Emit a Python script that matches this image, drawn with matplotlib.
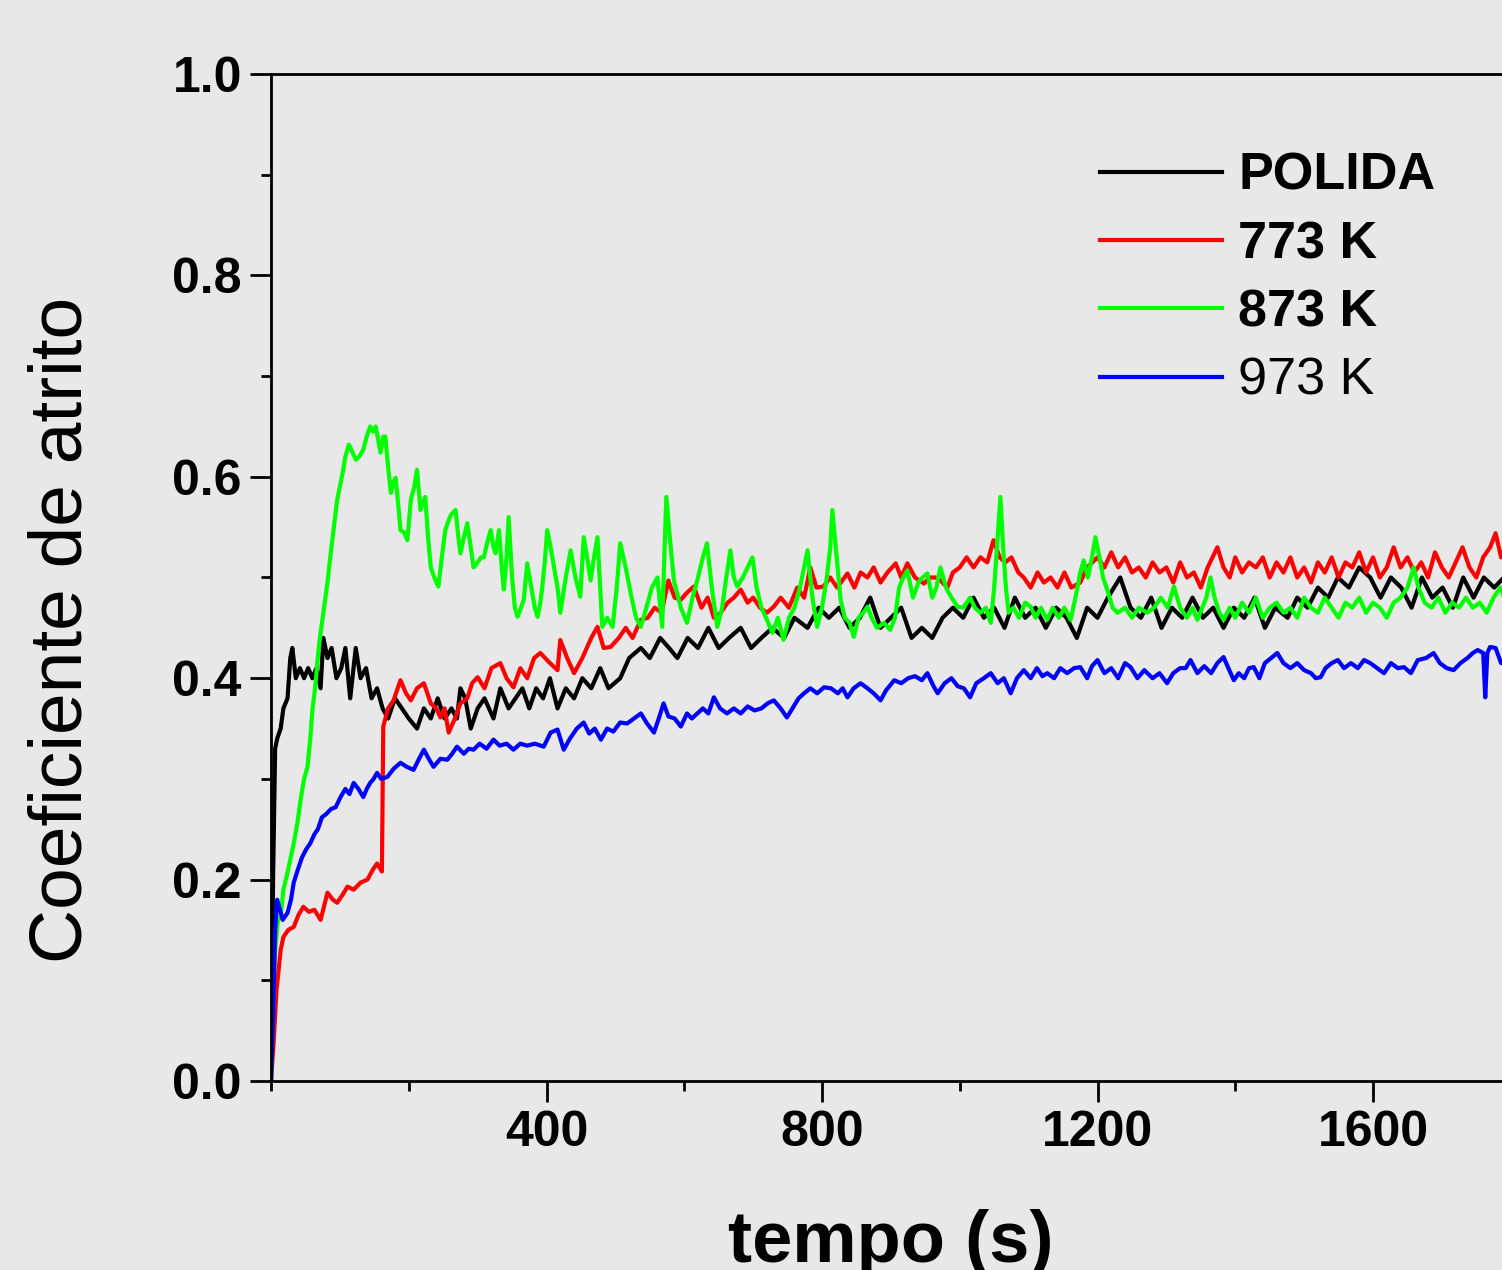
import matplotlib
matplotlib.use("Agg")
import matplotlib.pyplot as plt
from matplotlib.ticker import MultipleLocator

plt.rcParams['font.family'] = ['Liberation Sans', 'DejaVu Sans']

# %% Data (tempo in s, coeficiente de atrito)
t_polida = [0, 3, 6, 9, 14, 18, 24, 28, 31, 36, 42, 48, 54, 60, 66, 72, 76, 82, 88, 95,
            102, 108, 115, 123, 130, 138, 146, 154, 162, 170, 180, 190, 200, 212, 222, 232,
            242, 252, 262, 270, 275, 282, 290, 300, 310, 323, 333, 345, 355, 365, 375, 385,
            395, 405, 416, 428, 440, 452, 465, 478, 490, 507, 520, 537, 550, 565, 578, 590,
            605, 620, 635, 650, 665, 682, 697, 712, 728, 745, 760, 779, 795, 810, 825, 840,
            855, 870, 885, 900, 915, 930, 945, 960, 975, 990, 1005, 1020, 1035, 1050, 1065,
            1080, 1095, 1110, 1125, 1140, 1155, 1170, 1185, 1200, 1215, 1233, 1248, 1263,
            1278, 1293, 1308, 1323, 1338, 1353, 1368, 1383, 1398, 1413, 1428, 1443, 1458,
            1476, 1490, 1505, 1520, 1535, 1549, 1565, 1580, 1596, 1611, 1626, 1641, 1656,
            1671, 1686, 1701, 1716, 1731, 1746, 1761, 1776, 1790, 1800]
mu_polida = [0.00, 0.20, 0.33, 0.34, 0.35, 0.37, 0.38, 0.42, 0.43, 0.40, 0.41, 0.40, 0.41,
             0.40, 0.41, 0.39, 0.44, 0.42, 0.43, 0.40, 0.41, 0.43, 0.38, 0.43, 0.40, 0.41,
             0.38, 0.39, 0.37, 0.36, 0.38, 0.37, 0.36, 0.35, 0.37, 0.36, 0.38, 0.36, 0.37,
             0.36, 0.39, 0.38, 0.35, 0.37, 0.38, 0.36, 0.39, 0.37, 0.38, 0.39, 0.37, 0.39,
             0.38, 0.40, 0.37, 0.39, 0.38, 0.40, 0.39, 0.41, 0.39, 0.40, 0.42, 0.43, 0.42,
             0.44, 0.43, 0.42, 0.44, 0.43, 0.45, 0.43, 0.44, 0.45, 0.43, 0.44, 0.45, 0.44,
             0.46, 0.45, 0.47, 0.46, 0.47, 0.45, 0.46, 0.48, 0.45, 0.46, 0.47, 0.44, 0.45,
             0.44, 0.46, 0.47, 0.46, 0.48, 0.46, 0.47, 0.45, 0.48, 0.46, 0.47, 0.45, 0.47,
             0.46, 0.44, 0.47, 0.46, 0.48, 0.50, 0.47, 0.46, 0.48, 0.45, 0.47, 0.46, 0.48,
             0.46, 0.47, 0.45, 0.47, 0.46, 0.48, 0.45, 0.47, 0.46, 0.48, 0.47, 0.49, 0.48,
             0.50, 0.49, 0.51, 0.50, 0.48, 0.50, 0.49, 0.47, 0.50, 0.48, 0.49, 0.47, 0.50,
             0.48, 0.50, 0.49, 0.50, 0.49]

t_773 = [0, 4, 8, 11, 14, 18, 25, 33, 40, 47, 55, 63, 72, 82, 90, 96, 104, 111, 120, 130,
         140, 148, 154, 161, 163, 170, 178, 188, 196, 203, 212, 222, 232, 240, 246, 252, 258,
         267, 275, 285, 292, 300, 310, 320, 333, 342, 352, 362, 372, 382, 391, 405, 416, 420,
         430, 440, 452, 465, 474, 483, 493, 505, 515, 525, 537, 547, 557, 567, 577, 586, 595,
         604, 614, 625, 634, 643, 653, 663, 672, 682, 692, 700, 710, 720, 730, 740, 752, 764,
         774, 783, 792, 802, 812, 822, 837, 847, 856, 866, 875, 885, 895, 907, 915, 924, 935,
         948, 957, 965, 972, 982, 990, 1000, 1010, 1020, 1030, 1040, 1049, 1058, 1066, 1075,
         1085, 1093, 1103, 1113, 1122, 1132, 1142, 1152, 1162, 1175, 1185, 1200, 1210, 1220,
         1230, 1240, 1250, 1260, 1270, 1280, 1290, 1300, 1310, 1320, 1330, 1340, 1350, 1360,
         1374, 1383, 1392, 1400, 1410, 1420, 1430, 1440, 1450, 1460, 1470, 1480, 1490, 1500,
         1510, 1520, 1530, 1540, 1550, 1560, 1570, 1580, 1590, 1600, 1610, 1620, 1630, 1640,
         1650, 1660, 1670, 1680, 1690, 1700, 1710, 1720, 1730, 1740, 1750, 1760, 1770, 1778,
         1786, 1795, 1800]
mu_773 = [0.00, 0.04, 0.09, 0.11, 0.13, 0.143, 0.15, 0.153, 0.165, 0.173, 0.168, 0.17,
          0.16, 0.187, 0.18, 0.177, 0.185, 0.193, 0.19, 0.197, 0.20, 0.21, 0.216, 0.208,
          0.352, 0.37, 0.378, 0.398, 0.385, 0.378, 0.39, 0.395, 0.375, 0.37, 0.361, 0.37,
          0.346, 0.36, 0.375, 0.38, 0.395, 0.401, 0.39, 0.41, 0.415, 0.40, 0.391, 0.41, 0.40,
          0.42, 0.425, 0.415, 0.408, 0.438, 0.42, 0.405, 0.42, 0.44, 0.451, 0.43, 0.431, 0.44,
          0.45, 0.44, 0.458, 0.46, 0.47, 0.465, 0.497, 0.48, 0.478, 0.485, 0.491, 0.47, 0.48,
          0.46, 0.465, 0.475, 0.48, 0.488, 0.475, 0.48, 0.47, 0.465, 0.471, 0.48, 0.47, 0.49,
          0.48, 0.51, 0.49, 0.491, 0.50, 0.49, 0.504, 0.49, 0.505, 0.50, 0.51, 0.495, 0.505,
          0.514, 0.50, 0.514, 0.50, 0.494, 0.50, 0.50, 0.497, 0.49, 0.505, 0.51, 0.52, 0.51,
          0.52, 0.515, 0.537, 0.52, 0.515, 0.52, 0.505, 0.50, 0.49, 0.505, 0.495, 0.50, 0.49,
          0.505, 0.49, 0.495, 0.51, 0.52, 0.51, 0.525, 0.51, 0.52, 0.505, 0.51, 0.50, 0.515,
          0.505, 0.51, 0.495, 0.515, 0.50, 0.505, 0.49, 0.51, 0.53, 0.51, 0.50, 0.52, 0.505,
          0.515, 0.51, 0.52, 0.50, 0.515, 0.505, 0.52, 0.50, 0.51, 0.495, 0.515, 0.505, 0.52,
          0.50, 0.515, 0.51, 0.525, 0.505, 0.52, 0.50, 0.51, 0.53, 0.51, 0.52, 0.505, 0.515,
          0.50, 0.525, 0.51, 0.50, 0.515, 0.53, 0.51, 0.50, 0.52, 0.53, 0.544, 0.52, 0.535,
          0.525]

t_873 = [0, 5, 10, 14, 18, 25, 33, 38, 43, 48, 53, 57, 60, 64, 69, 72, 77, 82, 86, 89, 93,
         96, 100, 104, 108, 113, 118, 123, 128, 134, 139, 144, 148, 152, 156, 159, 163, 166,
         170, 174, 178, 181, 185, 188, 193, 198, 203, 208, 212, 217, 221, 224, 228, 232, 237,
         243, 248, 253, 257, 261, 265, 268, 272, 275, 280, 285, 290, 294, 300, 305, 309, 314,
         319, 323, 326, 331, 335, 338, 342, 345, 350, 354, 358, 363, 367, 372, 378, 383, 387,
         391, 394, 398, 401, 406, 411, 416, 420, 428, 435, 442, 449, 454, 459, 464, 469, 474,
         478, 481, 488, 496, 502, 507, 515, 522, 530, 537, 545, 553, 561, 568, 571, 574, 579,
         585, 595, 604, 612, 620, 627, 633, 640, 648, 655, 661, 667, 672, 677, 685, 692, 699,
         705, 712, 720, 728, 736, 744, 752, 760, 768, 774, 779, 786, 793, 800, 807, 812, 815,
         820, 827, 833, 840, 846, 853, 860, 866, 872, 880, 890, 899, 906, 912, 918, 924, 932,
         940, 946, 953, 960, 966, 972, 980, 988, 997, 1005, 1015, 1022, 1030, 1038, 1045,
         1050, 1055, 1059, 1063, 1067, 1071, 1078, 1086, 1095, 1103, 1110, 1118, 1127, 1135,
         1144, 1152, 1161, 1168, 1175, 1180, 1186, 1192, 1197, 1203, 1208, 1214, 1222, 1229,
         1240, 1250, 1260, 1272, 1282, 1292, 1302, 1311, 1320, 1330, 1338, 1345, 1352, 1358,
         1364, 1370, 1377, 1383, 1392, 1400, 1410, 1420, 1430, 1440, 1450, 1460, 1470, 1480,
         1490, 1500, 1510, 1520, 1530, 1540, 1550, 1560, 1570, 1580, 1590, 1600, 1610, 1620,
         1630, 1640, 1650, 1659, 1666, 1675, 1685, 1695, 1705, 1715, 1725, 1735, 1745, 1755,
         1765, 1775, 1785, 1793, 1800]
mu_873 = [0.00, 0.12, 0.16, 0.163, 0.19, 0.21, 0.236, 0.255, 0.279, 0.30, 0.312, 0.34,
          0.368, 0.39, 0.428, 0.445, 0.47, 0.495, 0.52, 0.537, 0.56, 0.577, 0.59, 0.604,
          0.62, 0.632, 0.625, 0.617, 0.62, 0.627, 0.64, 0.65, 0.645, 0.65, 0.635, 0.624,
          0.64, 0.64, 0.61, 0.584, 0.595, 0.599, 0.57, 0.547, 0.545, 0.537, 0.577, 0.59,
          0.607, 0.567, 0.575, 0.58, 0.54, 0.51, 0.50, 0.491, 0.52, 0.547, 0.555, 0.562,
          0.565, 0.567, 0.54, 0.524, 0.54, 0.554, 0.53, 0.51, 0.515, 0.52, 0.52, 0.535,
          0.547, 0.53, 0.524, 0.547, 0.51, 0.488, 0.52, 0.56, 0.50, 0.47, 0.461, 0.47, 0.478,
          0.514, 0.49, 0.47, 0.461, 0.475, 0.491, 0.52, 0.547, 0.53, 0.51, 0.49, 0.465, 0.50,
          0.527, 0.50, 0.481, 0.54, 0.52, 0.497, 0.52, 0.54, 0.49, 0.451, 0.46, 0.451, 0.49,
          0.534, 0.51, 0.485, 0.46, 0.451, 0.47, 0.49, 0.50, 0.451, 0.52, 0.58, 0.54, 0.497,
          0.47, 0.455, 0.48, 0.50, 0.52, 0.534, 0.49, 0.451, 0.47, 0.50, 0.527, 0.50, 0.491,
          0.50, 0.51, 0.52, 0.49, 0.47, 0.458, 0.445, 0.46, 0.438, 0.46, 0.47, 0.49, 0.51,
          0.527, 0.48, 0.451, 0.47, 0.50, 0.53, 0.567, 0.53, 0.478, 0.46, 0.455, 0.441, 0.46,
          0.465, 0.471, 0.46, 0.45, 0.455, 0.448, 0.46, 0.49, 0.50, 0.507, 0.48, 0.495, 0.50,
          0.504, 0.48, 0.49, 0.51, 0.49, 0.48, 0.471, 0.47, 0.48, 0.47, 0.465, 0.47, 0.455,
          0.49, 0.54, 0.58, 0.53, 0.49, 0.465, 0.47, 0.46, 0.475, 0.471, 0.46, 0.47, 0.458,
          0.47, 0.46, 0.47, 0.458, 0.48, 0.505, 0.517, 0.50, 0.52, 0.54, 0.52, 0.50, 0.488,
          0.47, 0.465, 0.47, 0.46, 0.47, 0.465, 0.47, 0.48, 0.47, 0.491, 0.47, 0.46, 0.47,
          0.458, 0.47, 0.48, 0.50, 0.48, 0.465, 0.458, 0.47, 0.46, 0.475, 0.465, 0.48, 0.46,
          0.47, 0.475, 0.465, 0.47, 0.46, 0.48, 0.47, 0.465, 0.48, 0.47, 0.46, 0.475, 0.47,
          0.48, 0.465, 0.475, 0.47, 0.46, 0.475, 0.48, 0.49, 0.51, 0.49, 0.475, 0.47, 0.48,
          0.465, 0.475, 0.47, 0.48, 0.47, 0.475, 0.465, 0.48, 0.49, 0.475, 0.48]

t_973 = [0, 3, 6, 9, 13, 17, 24, 29, 33, 39, 45, 51, 57, 63, 68, 74, 80, 87, 94, 101, 108,
         114, 120, 127, 134, 139, 144, 149, 154, 160, 169, 178, 188, 197, 207, 215, 222, 229,
         236, 246, 256, 263, 270, 280, 287, 294, 303, 313, 323, 332, 342, 352, 362, 372, 383,
         396, 406, 416, 425, 434, 444, 454, 462, 470, 479, 488, 497, 507, 517, 527, 537, 546,
         556, 563, 570, 577, 586, 595, 604, 611, 619, 627, 635, 643, 652, 662, 672, 682, 692,
         702, 712, 721, 730, 740, 749, 757, 766, 774, 783, 793, 803, 813, 823, 830, 837, 846,
         856, 866, 875, 885, 893, 905, 915, 925, 935, 945, 953, 962, 968, 978, 988, 997, 1006,
         1015, 1024, 1035, 1045, 1055, 1064, 1074, 1083, 1093, 1103, 1112, 1120, 1127, 1137,
         1146, 1156, 1166, 1175, 1185, 1192, 1200, 1210, 1220, 1230, 1240, 1248, 1258, 1268,
         1280, 1290, 1301, 1310, 1320, 1328, 1335, 1345, 1355, 1365, 1374, 1383, 1390, 1398,
         1405, 1413, 1420, 1427, 1435, 1443, 1452, 1461, 1470, 1480, 1490, 1500, 1510, 1517,
         1524, 1531, 1540, 1549, 1558, 1568, 1578, 1587, 1596, 1606, 1616, 1626, 1636, 1645,
         1655, 1665, 1677, 1688, 1697, 1707, 1717, 1727, 1737, 1745, 1752, 1760, 1763, 1766,
         1770, 1778, 1786, 1792, 1800]
mu_973 = [0.0, 0.06, 0.15, 0.18, 0.17, 0.16, 0.167, 0.18, 0.197, 0.21, 0.222, 0.23, 0.236,
          0.245, 0.25, 0.262, 0.265, 0.27, 0.272, 0.282, 0.29, 0.285, 0.296, 0.29, 0.282,
          0.29, 0.296, 0.30, 0.306, 0.30, 0.302, 0.31, 0.316, 0.312, 0.309, 0.32, 0.329,
          0.32, 0.312, 0.32, 0.319, 0.325, 0.332, 0.325, 0.33, 0.329, 0.335, 0.33, 0.339,
          0.333, 0.335, 0.329, 0.335, 0.333, 0.335, 0.332, 0.346, 0.349, 0.329, 0.34, 0.35,
          0.356, 0.345, 0.35, 0.339, 0.35, 0.347, 0.356, 0.355, 0.36, 0.365, 0.355, 0.346,
          0.36, 0.375, 0.362, 0.36, 0.352, 0.365, 0.36, 0.365, 0.37, 0.365, 0.381, 0.37,
          0.365, 0.37, 0.365, 0.372, 0.368, 0.37, 0.375, 0.378, 0.37, 0.361, 0.37, 0.38,
          0.385, 0.39, 0.385, 0.391, 0.39, 0.385, 0.39, 0.381, 0.39, 0.395, 0.39, 0.385,
          0.378, 0.388, 0.398, 0.395, 0.40, 0.402, 0.398, 0.405, 0.392, 0.385, 0.395, 0.40,
          0.392, 0.39, 0.381, 0.395, 0.40, 0.405, 0.395, 0.40, 0.385, 0.40, 0.408, 0.40,
          0.41, 0.402, 0.405, 0.40, 0.41, 0.405, 0.41, 0.411, 0.40, 0.412, 0.418, 0.405,
          0.41, 0.40, 0.415, 0.411, 0.40, 0.408, 0.40, 0.405, 0.395, 0.405, 0.41, 0.41,
          0.418, 0.405, 0.412, 0.405, 0.415, 0.421, 0.41, 0.398, 0.405, 0.40, 0.41, 0.411,
          0.40, 0.415, 0.42, 0.425, 0.415, 0.41, 0.415, 0.408, 0.405, 0.40, 0.401, 0.41,
          0.415, 0.418, 0.41, 0.415, 0.41, 0.418, 0.415, 0.41, 0.405, 0.415, 0.41, 0.411,
          0.405, 0.418, 0.42, 0.425, 0.415, 0.41, 0.408, 0.415, 0.42, 0.425, 0.428, 0.425,
          0.381, 0.425, 0.431, 0.43, 0.415, 0.42, 0.425]

series = [
    (t_polida, mu_polida, "black", "POLIDA", "bold"),
    (t_773, mu_773, "#ff0000", "773 K", "bold"),
    (t_873, mu_873, "#00ff00", "873 K", "bold"),
    (t_973, mu_973, "#0000ff", "973 K", "normal"),
]

# %% Figure
bg = "#e8e8e8"
fig = plt.figure(figsize=(15.02, 12.70), dpi=100, facecolor=bg)
ax = fig.add_axes([271 / 1502, 189 / 1270, 1377.5 / 1502, 1007 / 1270])
ax.set_facecolor(bg)

for t, mu, color, label, _ in series:
    ax.plot(t, mu, color=color, lw=3.0, label=label)

ax.set_xlim(0, 2000)
ax.set_ylim(0, 1.0)
ax.set_xticks([400, 800, 1200, 1600])
ax.xaxis.set_minor_locator(MultipleLocator(200))
ax.set_yticks([0.0, 0.2, 0.4, 0.6, 0.8, 1.0])
ax.yaxis.set_minor_locator(MultipleLocator(0.1))
ax.set_yticklabels(["0.0", "0.2", "0.4", "0.6", "0.8", "1.0"])

for s in ["left", "bottom", "top"]:
    ax.spines[s].set_linewidth(2.0)
ax.spines["right"].set_visible(False)

ax.tick_params(which="major", length=15, width=2.0, direction="out",
               labelsize=36, pad=6)
ax.tick_params(which="minor", length=7, width=2.0, direction="out")
ax.tick_params(top=False, right=False, which="both")
for lbl in ax.get_xticklabels() + ax.get_yticklabels():
    lbl.set_fontweight("bold")

fig.text(62 / 1502, 1 - 630 / 1270, "Coeficiente de atrito", rotation=90,
         ha="center", va="center", fontsize=54)
fig.text(891 / 1502, 8 / 1270, "tempo (s)", ha="center", va="baseline",
         fontsize=52, fontweight="bold")

leg = ax.legend(loc="upper left", bbox_to_anchor=(1100 / 1502, 1 - 152 / 1270),
                bbox_transform=fig.transFigure, frameon=False, fontsize=37.5,
                handlelength=2.35, handletextpad=0.3, labelspacing=0.37,
                borderpad=0, borderaxespad=0)
for txt, (_, _, _, _, weight) in zip(leg.get_texts(), series):
    txt.set_fontweight(weight)
for h in leg.get_lines():
    h.set_linewidth(3.0)

fig.savefig("out.png", dpi=100, facecolor=bg)
